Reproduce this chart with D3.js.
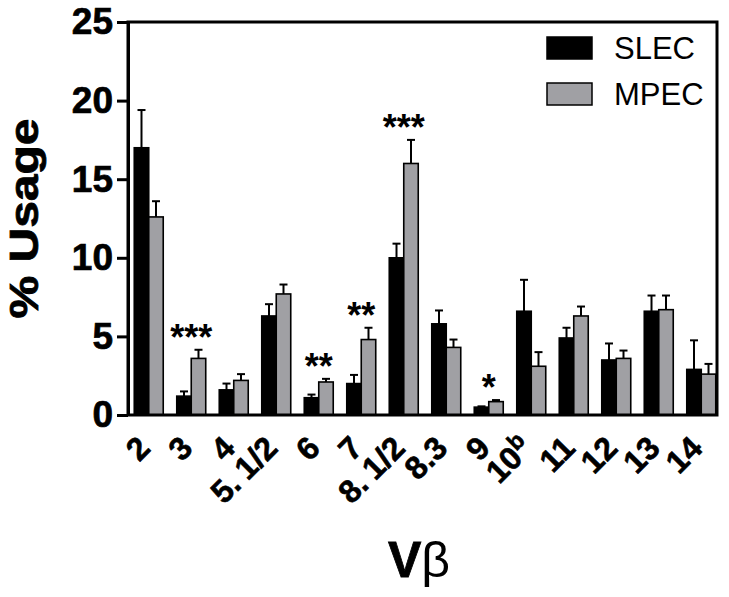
<!DOCTYPE html>
<html>
<head>
<meta charset="utf-8">
<script src="https://cdn.jsdelivr.net/npm/d3@7"></script>
<style>
  body { margin: 0; background: #fff; }
  svg { display: block; font-family: "Liberation Sans", Arial, sans-serif; }
</style>
</head>
<body>
<script>
// ---- data ----
const categories = ["2","3","4","5.1/2","6","7","8.1/2","8.3","9","10b","11","12","13","14"];
const seriesNames = ["SLEC","MPEC"];
const slecValues = [17.0, 1.2, 1.6, 6.3, 1.1, 2.0, 10.0, 5.8, 0.5, 6.6, 4.9, 3.5, 6.6, 2.9];
const slecErrors = [2.4, 0.3, 0.4, 0.75, 0.2, 0.55, 0.9, 0.85, 0.05, 2.0, 0.65, 1.05, 1.0, 1.85];
const mpecValues = [12.6, 3.6, 2.2, 7.7, 2.1, 4.8, 16.0, 4.3, 0.85, 3.1, 6.3, 3.6, 6.7, 2.6];
const mpecErrors = [1.0, 0.55, 0.4, 0.6, 0.2, 0.75, 1.5, 0.5, 0.1, 0.9, 0.6, 0.5, 0.9, 0.65];
const yTicks = [0, 5, 10, 15, 20, 25];
const sigCategories = ["3", "6", "7", "8.1/2", "9"];
const sigLabels = ["***", "**", "**", "***", "*"];

const colors = { SLEC: "#000000", MPEC: "#a0a0a4" };
const W = 729, H = 597;
const svg = d3.select("body").append("svg").attr("width", W).attr("height", H);

const plot = { left: 128, right: 717, top: 22, bottom: 415 };

const x = d3.scaleBand().domain(categories).range([130, 720]).paddingInner(0.318).paddingOuter(0.1);
const xs = d3.scaleBand().domain(seriesNames).range([0, x.bandwidth()]);
const y = d3.scaleLinear().domain([0, 25]).range([plot.bottom, plot.top]);

const rows = categories.map((c, i) => ({
  cat: c,
  vals: [
    { s: "SLEC", v: slecValues[i], e: slecErrors[i] },
    { s: "MPEC", v: mpecValues[i], e: mpecErrors[i] }
  ]
}));

// ---- bars ----
const groups = svg.append("g").selectAll("g").data(rows).join("g")
  .attr("transform", d => `translate(${x(d.cat)},0)`);

// error bars
groups.selectAll("g.err").data(d => d.vals).join("g").attr("class", "err")
  .each(function(d) {
    const g = d3.select(this);
    const cx = xs(d.s) + xs.bandwidth() / 2;
    g.append("line").attr("x1", cx).attr("x2", cx).attr("y1", y(d.v)).attr("y2", y(d.v + d.e))
      .attr("stroke", "#000").attr("stroke-width", 2);
    g.append("line").attr("x1", cx - 4).attr("x2", cx + 4).attr("y1", y(d.v + d.e)).attr("y2", y(d.v + d.e))
      .attr("stroke", "#000").attr("stroke-width", 2);
  });

groups.selectAll("rect").data(d => d.vals).join("rect")
  .attr("x", d => xs(d.s))
  .attr("width", xs.bandwidth())
  .attr("y", d => y(d.v))
  .attr("height", d => y(0) - y(d.v))
  .attr("fill", d => colors[d.s])
  .attr("stroke", "#000")
  .attr("stroke-width", 1.6);

// ---- significance stars ----
sigCategories.forEach((c, k) => {
  const i = categories.indexOf(c);
  const top = Math.max(slecValues[i] + slecErrors[i], mpecValues[i] + mpecErrors[i]);
  svg.append("text")
    .attr("x", x(c) + x.bandwidth() / 2)
    .attr("y", y(top))
    .attr("text-anchor", "middle")
    .attr("font-size", 36).attr("font-weight", "bold")
    .text(sigLabels[k]);
});

// ---- frame ----
svg.append("rect")
  .attr("x", plot.left).attr("y", plot.top)
  .attr("width", plot.right - plot.left).attr("height", plot.bottom - plot.top)
  .attr("fill", "none").attr("stroke", "#000").attr("stroke-width", 3);

// ---- y axis ----
const yAxis = svg.append("g").attr("transform", `translate(${plot.left},0)`)
  .call(d3.axisLeft(y).tickValues(yTicks).tickSize(11).tickSizeOuter(0).tickPadding(4));
yAxis.select(".domain").attr("stroke-width", 3);
yAxis.selectAll(".tick line").attr("stroke-width", 3);
yAxis.selectAll(".tick text").attr("font-size", 37).attr("font-weight", "bold")
  .attr("font-family", "'Liberation Sans', Arial, sans-serif").attr("fill", "#000")
  .attr("stroke", "#000").attr("stroke-width", 0.7);

// ---- x axis ----
const xAxis = svg.append("g").attr("transform", `translate(0,${plot.bottom})`)
  .call(d3.axisBottom(x).tickSize(0).tickSizeOuter(0));
xAxis.select(".domain").remove();
xAxis.selectAll(".tick text")
  .attr("x", 0).attr("y", 0).attr("dy", 0)
  .attr("transform", "translate(3,35) rotate(-45)")
  .attr("text-anchor", "end")
  .attr("font-size", 32).attr("font-weight", "bold")
  .attr("font-family", "'Liberation Sans', Arial, sans-serif").attr("fill", "#000")
  .attr("stroke", "#000").attr("stroke-width", 0.6)
  .each(function(d) {
    const t = d3.select(this);
    if (d === "10b") {
      t.text("10");
      t.append("tspan").attr("dy", "-0.5em").attr("font-size", 23).text("b");
    } else if (d.indexOf(".1/2") > 0) {
      const parts = d.split(".");
      t.text(parts[0] + ".");
      t.append("tspan").attr("dx", 7).text(parts[1]);
    }
  });

// ---- axis titles ----
svg.append("text")
  .attr("transform", `translate(38,${(plot.top + plot.bottom) / 2}) rotate(-90) scale(1.2,1)`)
  .attr("text-anchor", "middle")
  .attr("font-size", 40).attr("font-weight", "bold")
  .attr("stroke", "#000").attr("stroke-width", 0.8)
  .text("% Usage");

const xt = svg.append("text")
  .attr("x", 419).attr("y", 577)
  .attr("text-anchor", "middle")
  .attr("font-size", 50);
xt.append("tspan").attr("font-weight", "bold").attr("stroke", "#000").attr("stroke-width", 0.8).text("V");
xt.append("tspan").attr("font-weight", "normal").text("β");

// ---- legend ----
const legend = svg.append("g");
seriesNames.forEach((s, i) => {
  legend.append("rect")
    .attr("x", 547).attr("y", 37 + i * 46)
    .attr("width", 45).attr("height", 22)
    .attr("fill", colors[s]).attr("stroke", "#000").attr("stroke-width", 1.5);
  legend.append("text")
    .attr("x", 614).attr("y", 59 + i * 46)
    .attr("font-size", 31)
    .text(s);
});
</script>
</body>
</html>
